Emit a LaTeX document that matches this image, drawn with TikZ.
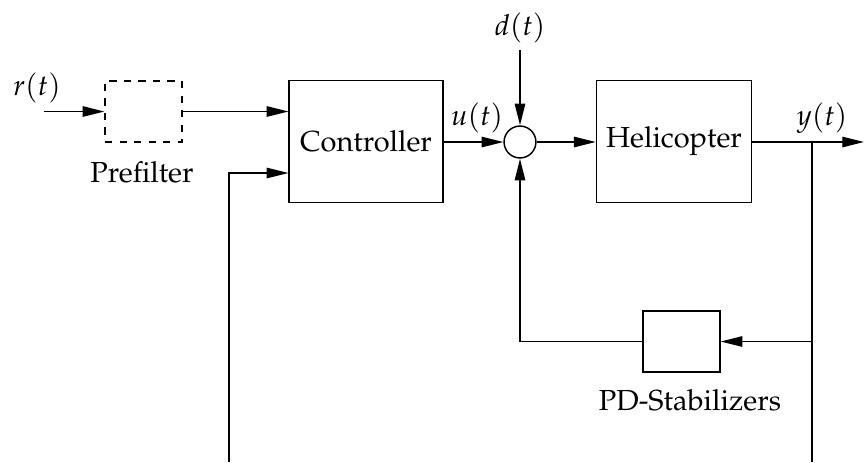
\documentclass[tikz,border=0pt]{standalone}
\usepackage[T1]{fontenc}
\usepackage{amsmath}
\usepackage{mathpazo}
\usetikzlibrary{arrows.meta}

\begin{document}
\begin{tikzpicture}[x=0.345pt,y=-0.345pt,line width=0.5pt,>={Triangle[length=7.5pt,width=3.6pt]}]
    \tikzset{block/.style = {shape=rectangle,draw,minimum width=53pt,minimum height=42pt}}
    \tikzset{small block/.style = {shape=rectangle,draw,minimum width=26.5pt,minimum height=21pt}}
    \tikzset{sum/.style = {shape=circle,draw,minimum size=11pt,inner sep=0pt}}
    \useasboundingbox (0,0) rectangle (864,462);

    % Blocks of the loop
    \node[small block,dash pattern=on 2.5pt off 2.5pt] (pre) at (143.5,111.5) {};
    \node[block] (ctrl) at (366,141.5) {Controller};
    \node[sum] (sum) at (520,142) {};
    \node[block] (heli) at (674,141.5) {Helicopter};
    \node[small block] (pd) at (681.5,341.5) {};

    % Labels
    \node (prelab) at (142,172) {Prefilter};
    \node (pdlab) at (690,400) {PD-Stabilizers};
    \node (rlab) at (37,88) {$r(t)$};
    \node (dlab) at (520,28) {$d(t)$};
    \node (ulab) at (477,118) {$u(t)$};
    \node (ylab) at (822,118) {$y(t)$};

    % Free ends
    \coordinate (in) at (44,111.5);
    \coordinate (dist) at (520,50);
    \coordinate (out) at (864,142);
    \coordinate (branch) at (812,142);
    \coordinate (fb) at (229,173);
    \coordinate (bot1) at (229,462);
    \coordinate (bot2) at (812,462);

    % Signals
    \draw[->] (in) -- (pre.west);
    \draw[->] (pre.east) -- (ctrl.west |- pre.east);
    \draw[->] (bot1) -- (fb) -- (ctrl.west |- fb);
    \draw[->] (ctrl.east |- sum.west) -- (sum.west);
    \draw[->] (dist) -- (sum.north);
    \draw[->] (sum.east) -- (heli.west |- sum.east);
    \draw[->] (heli.east |- out) -- (out);
    \draw (branch) -- (bot2);
    \draw[->] (branch |- pd.east) -- (pd.east);
    \draw[->] (pd.west) -| (sum.south);
\end{tikzpicture}
\end{document}
